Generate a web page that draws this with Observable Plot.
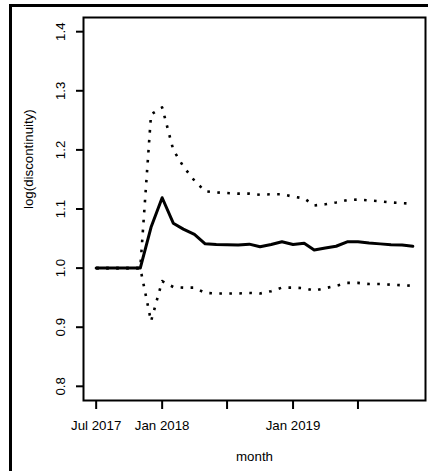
<!DOCTYPE html>
<html>
<head>
<meta charset="utf-8">
<script src="https://cdn.jsdelivr.net/npm/d3@7"></script>
<script src="https://cdn.jsdelivr.net/npm/@observablehq/plot@0.6"></script>
<style>
  html, body { margin: 0; padding: 0; background: #fff; }
  #wrap { position: relative; width: 428px; height: 471px; overflow: hidden; background: #fff; }
  #border { position: absolute; left: 9px; top: 4px; width: 440px; height: 480px;
            border-left: 3px solid #000; border-top: 3px solid #000; box-sizing: border-box; pointer-events: none; }
  #wrap svg { position: absolute; left: 0; top: 0; }
</style>
</head>
<body>
<div id="wrap"><div id="border"></div></div>
<script>
const months = ["2017-07","2017-08","2017-09","2017-10","2017-11","2017-12",
  "2018-01","2018-02","2018-03","2018-04","2018-05","2018-06",
  "2018-07","2018-08","2018-09","2018-10","2018-11","2018-12",
  "2019-01","2019-02","2019-03","2019-04","2019-05","2019-06",
  "2019-07","2019-08","2019-09","2019-10","2019-11","2019-12"];
const estimate = [1,1,1,1,1,1.069,1.119,1.076,1.066,1.057,1.041,1.040,1.0395,1.039,1.0405,1.036,1.040,1.0445,1.040,1.042,1.0305,1.034,1.037,1.0445,1.0445,1.0425,1.041,1.0395,1.039,1.037];
const upper = [1,1,1,1,1,1.26,1.272,1.20,1.172,1.148,1.130,1.128,1.127,1.126,1.126,1.124,1.125,1.125,1.121,1.118,1.106,1.108,1.111,1.115,1.116,1.1145,1.113,1.111,1.110,1.109];
const lower = [1,1,1,1,1,0.910,0.978,0.968,0.967,0.967,0.958,0.957,0.957,0.957,0.958,0.957,0.961,0.967,0.967,0.966,0.962,0.966,0.970,0.975,0.975,0.973,0.973,0.972,0.971,0.970];
const xTickMonths = ["2017-07","2018-01","2018-07","2019-01","2019-07"];
const xTickLabels = ["Jul 2017","Jan 2018","","Jan 2019",""];
const yTicks = [0.8,0.9,1.0,1.1,1.2,1.3,1.4];
const yTickLabels = ["0.8","0.9","1.0","1.1","1.2","1.3","1.4"];
const yLimits = [0.8, 1.4];

const parse = d3.utcParse("%Y-%m");
const data = months.map((m, i) => ({date: parse(m), est: estimate[i], hi: upper[i], lo: lower[i]}));
const xTickDates = xTickMonths.map(parse);
const xLabelMap = new Map(xTickDates.map((d, i) => [+d, xTickLabels[i]]));
const yLabelMap = new Map(yTicks.map((v, i) => [v.toFixed(1), yTickLabels[i]]));

// R-style 4% range extension
const t0 = +data[0].date, t1 = +data[data.length - 1].date, dt = (t1 - t0) * 0.04;
const dy = (yLimits[1] - yLimits[0]) * 0.04;

const chart = Plot.plot({
  width: 428,
  height: 471,
  marginLeft: 83,
  marginRight: 3,
  marginTop: 17,
  marginBottom: 71,
  style: {fontFamily: "'Liberation Sans', Arial, sans-serif", fontSize: "13.3px", background: "transparent", color: "#000"},
  x: {type: "utc", domain: [new Date(t0 - dt), new Date(t1 + dt)]},
  y: {domain: [yLimits[0] - dy, yLimits[1] + dy]},
  marks: [
    Plot.axisY({ticks: yTicks, tickFormat: v => yLabelMap.get(v.toFixed(1)), tickSize: 7, tickRotate: -90,
      textAnchor: "middle", lineAnchor: "middle", tickPadding: 16, strokeWidth: 2, label: null, fill: "#000"}),
    Plot.axisX({ticks: xTickDates, tickFormat: d => xLabelMap.get(+d), tickSize: 9, tickPadding: 11,
      strokeWidth: 2, label: null, fill: "#000"}),
    Plot.text(["log(discontinuity)"], {frameAnchor: "left", dx: -55, rotate: -90, fill: "#000"}),
    Plot.text(["month"], {frameAnchor: "bottom", dy: 60, fill: "#000"}),
    Plot.line(data, {x: "date", y: "hi", stroke: "#000", strokeWidth: 2.6, strokeDasharray: "2.6 7.4", strokeLinecap: "butt"}),
    Plot.line(data, {x: "date", y: "lo", stroke: "#000", strokeWidth: 2.6, strokeDasharray: "2.6 7.4", strokeLinecap: "butt"}),
    Plot.line(data, {x: "date", y: "est", stroke: "#000", strokeWidth: 3, strokeLinejoin: "round"}),
    Plot.frame({stroke: "#000", strokeWidth: 2})
  ]
});
document.getElementById("wrap").appendChild(chart);
</script>
</body>
</html>
